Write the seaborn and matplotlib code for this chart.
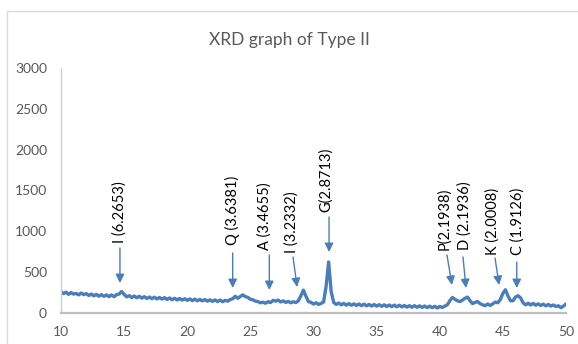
import numpy as np
import pandas as pd
import matplotlib
matplotlib.use("Agg")
import matplotlib.pyplot as plt
import seaborn as sns
from matplotlib.lines import Line2D

# ---- data ----
two_theta_start, two_theta_stop, two_theta_step = 10.0, 50.0, 0.2
intensity = [
    262, 238, 255, 228, 250, 232, 240, 222, 245, 225,   # 10.0-11.8
    238, 215, 232, 210, 228, 206, 225, 204, 222, 200,   # 12.0-13.8
    220, 200, 225, 232, 262, 228, 198, 212, 190, 208,   # 14.0-15.8
    186, 205, 182, 200, 178, 196, 175, 193, 172, 190,   # 16.0-17.8
    170, 188, 166, 184, 162, 180, 160, 178, 158, 174,   # 18.0-19.8
    155, 172, 152, 170, 150, 166, 148, 164, 145, 160,   # 20.0-21.8
    143, 160, 140, 158, 138, 155, 145, 165, 175, 205,   # 22.0-23.8
    180, 202, 222, 200, 192, 168, 162, 145, 140, 125,   # 24.0-25.8
    132, 120, 138, 128, 155, 145, 158, 135, 148, 130,   # 26.0-27.8
    142, 125, 138, 128, 150, 210, 280, 205, 140, 130,   # 28.0-29.8
    110, 125, 105, 118, 135, 330, 625, 260, 130, 105,   # 30.0-31.8
    122, 100, 118, 96, 115, 95, 112, 92, 110, 90,       # 32.0-33.8
    108, 88, 105, 85, 104, 84, 102, 82, 100, 80,        # 34.0-35.8
    98, 78, 96, 76, 95, 75, 92, 72, 90, 70,             # 36.0-37.8
    90, 70, 88, 68, 86, 66, 84, 65, 82, 62,             # 38.0-39.8
    80, 68, 84, 100, 150, 190, 168, 150, 140, 158,      # 40.0-41.8
    180, 195, 150, 115, 130, 140, 115, 100, 90, 110,    # 42.0-43.8
    92, 112, 135, 125, 165, 240, 285, 210, 150, 150,    # 44.0-45.8
    195, 212, 185, 125, 100, 120, 98, 118, 95, 112,     # 46.0-47.8
    92, 108, 88, 104, 85, 98, 80, 88, 65, 85,           # 48.0-49.8
    110,                                                # 50.0
]
two_theta = np.round(np.arange(two_theta_start, two_theta_stop + 1e-9, two_theta_step), 1)

peak_labels = ["I (6.2653)", "Q (3.6381)", "A (3.4655)", "I (3.2332)", "G(2.8713)",
               "P(2.1938)", "D (2.1936)", "K (2.0008)", "C (1.9126)"]

x_ticks = [10, 15, 20, 25, 30, 35, 40, 45, 50]
y_ticks = [0, 500, 1000, 1500, 2000, 2500, 3000]

# annotation geometry: (text x, text bottom y, arrow start x, arrow start y, tip x, tip y)
ann_geom = [
    (14.67, 857, 14.67, 796, 14.67, 367),
    (23.60, 833, 23.60, 735, 23.60, 306),
    (26.10, 771, 26.50, 710, 26.50, 282),
    (28.30, 735, 28.38, 686, 28.70, 318),
    (31.00, 1237, 31.23, 1176, 31.23, 747),
    (40.33, 771, 40.57, 710, 40.97, 343),
    (42.00, 771, 41.84, 686, 42.08, 306),
    (44.22, 710, 44.38, 673, 44.70, 343),
    (46.15, 710, 46.10, 624, 46.10, 306),
]

df = pd.DataFrame({"two_theta": two_theta, "intensity": intensity})

sns.set_theme(style="white")
plt.rcParams["font.family"] = ["Lato", "DejaVu Sans"]

W, H = 578, 344
fig = plt.figure(figsize=(W / 100, H / 100), dpi=100)
ax = fig.add_axes([61 / W, 1 - 313 / H, (566 - 61) / W, (313 - 68) / H])

line_color = "#4A7EBB"
sns.lineplot(data=df, x="two_theta", y="intensity", ax=ax, color=line_color,
             linewidth=2.4, estimator=None)

ax.set_xlim(10, 50)
ax.set_ylim(0, 3000)
ax.set_xticks(x_ticks)
ax.set_yticks(y_ticks)
ax.set_xlabel("")
ax.set_ylabel("")
ax.tick_params(axis="both", length=0, labelsize=10, colors="#595959")
ax.tick_params(axis="y", pad=10)
ax.tick_params(axis="x", pad=9)
for s in ["top", "right"]:
    ax.spines[s].set_visible(False)
ax.spines["left"].set_color("#D0D0D0")
ax.spines["left"].set_linewidth(1.0)
ax.spines["bottom"].set_color("#BFBFBF")
ax.spines["bottom"].set_linewidth(1.6)
ax.grid(False)

for lab, (tx, ty, sx, sy, px, py) in zip(peak_labels, ann_geom):
    ax.text(tx, ty, lab, rotation=90, ha="center", va="bottom", fontsize=10.5,
            color="#000000")
    ax.annotate("", xy=(px, py), xytext=(sx, sy),
                arrowprops=dict(arrowstyle="-|>", color=line_color, lw=1.0,
                                mutation_scale=13, shrinkA=0, shrinkB=0))

fig.text(0.5, 1 - 40 / H, "XRD graph of Type II", ha="center", va="center",
         fontsize=12.5, color="#595959")

# chart frame (top and left edges visible in the reference)
fig.add_artist(Line2D([7 / W, 7 / W, 1.0], [0.0, 1 - 11 / H, 1 - 11 / H],
                      transform=fig.transFigure, color="#D9D9D9", lw=1.0))

fig.savefig("out.png", dpi=100)
